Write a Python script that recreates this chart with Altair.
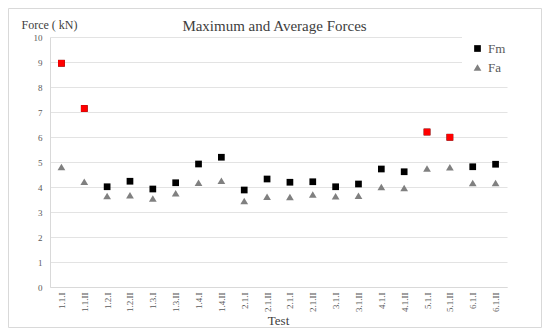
import altair as alt
import pandas as pd

tests = ["1.1.I", "1.1.II", "1.2.I", "1.2.II", "1.3.I", "1.3.II", "1.4.I", "1.4.II",
         "2.1.I", "2.1.II", "2.1.I", "2.1.II", "3.1.I", "3.1.II", "4.1.I", "4.1.II",
         "5.1.I", "5.1.II", "6.1.I", "6.1.II"]
fm = [8.95, 7.14, 4.01, 4.23, 3.92, 4.17, 4.92, 5.19, 3.88, 4.32,
      4.19, 4.21, 4.01, 4.12, 4.72, 4.61, 6.20, 5.99, 4.81, 4.91]
fa = [4.80, 4.21, 3.64, 3.67, 3.54, 3.75, 4.17, 4.25, 3.44, 3.61,
      3.60, 3.70, 3.63, 3.65, 4.00, 3.96, 4.74, 4.79, 4.16, 4.16]
fm_red = [True, True, False, False, False, False, False, False, False, False,
          False, False, False, False, False, False, True, True, False, False]
series_names = ["Fm", "Fa"]
y_ticks = [0, 1, 2, 3, 4, 5, 6, 7, 8, 9, 10]

rows = []
for i, t in enumerate(tests):
    rows.append({"idx": i, "test": t, "series": "Fm", "value": fm[i], "red": fm_red[i]})
    rows.append({"idx": i, "test": t, "series": "Fa", "value": fa[i], "red": False})
df = pd.DataFrame(rows)

label_array = "[" + ",".join("'" + t + "'" for t in tests) + "]"
SERIF = "Liberation Serif"

x_enc = alt.X(
    "idx:O",
    title="Test",
    axis=alt.Axis(
        labelExpr=label_array + "[datum.value]",
        labelAngle=-90,
        labelFont=SERIF,
        labelFontSize=9,
        labelColor="#595959",
        labelPadding=5,
        ticks=False,
        domainColor="#d9d9d9",
        titleFont=SERIF,
        titleFontSize=13,
        titleFontWeight="normal",
        titleColor="#404040",
        titleX=228,
        titleY=37,
        titleBaseline="alphabetic",
        titleAlign="center",
    ),
)
y_enc = alt.Y(
    "value:Q",
    title="Force ( kN)",
    scale=alt.Scale(domain=[0, 10], nice=False),
    axis=alt.Axis(
        values=y_ticks,
        labelOverlap=False,
        labelFont=SERIF,
        labelFontSize=9,
        labelColor="#595959",
        labelPadding=8,
        ticks=False,
        domainColor="#d9d9d9",
        gridColor="#e3e3e3",
        titleAngle=0,
        titleFont=SERIF,
        titleFontSize=12,
        titleFontWeight="normal",
        titleColor="#404040",
        titleX=-29,
        titleY=-9,
        titleAlign="left",
        titleBaseline="alphabetic",
    ),
)

frame = alt.Chart(pd.DataFrame({"a": [0]})).mark_rect(
    fillOpacity=0, stroke="#d9d9d9", strokeWidth=1
).encode(
    x=alt.value(-41.5), x2=alt.value(491.5), y=alt.value(-28.5), y2=alt.value(290.5)
)

legend = alt.Legend(
    title=None, orient="none", legendX=412, legendY=-4,
    fillColor="white", padding=9, labelFont=SERIF, labelFontSize=13,
    labelColor="#595959", symbolSize=40, rowPadding=5,
)

points = alt.Chart(df).mark_point(filled=True, opacity=1).encode(
    x=x_enc,
    y=y_enc,
    shape=alt.Shape(
        "series:N",
        scale=alt.Scale(domain=series_names, range=["square", "triangle-up"]),
        legend=legend,
    ),
    color=alt.Color(
        "series:N",
        scale=alt.Scale(domain=series_names, range=["#000000", "#808080"]),
        legend=legend,
    ),
    size=alt.Size(
        "series:N",
        scale=alt.Scale(domain=series_names, range=[45, 60]),
        legend=None,
    ),
)

red = alt.Chart(df).transform_filter("datum.red").mark_point(
    filled=True, opacity=1, shape="square", color="#ff0000"
).encode(x=x_enc, y=y_enc, size=alt.value(45))

chart = alt.layer(frame, points, red).properties(
    width=457,
    height=250,
    padding={"left": 42, "top": 29, "right": 35, "bottom": 41},
    autosize=alt.AutoSizeParams(type="none"),
    title=alt.TitleParams(
        "Maximum and Average Forces", font=SERIF, fontSize=15,
        fontWeight="normal", color="#404040", anchor="middle", dx=-4,
        offset=0, dy=38, baseline="alphabetic",
    ),
).configure_view(stroke=None)

chart.save("out.html", embed_options={"renderer": "svg", "actions": False})
